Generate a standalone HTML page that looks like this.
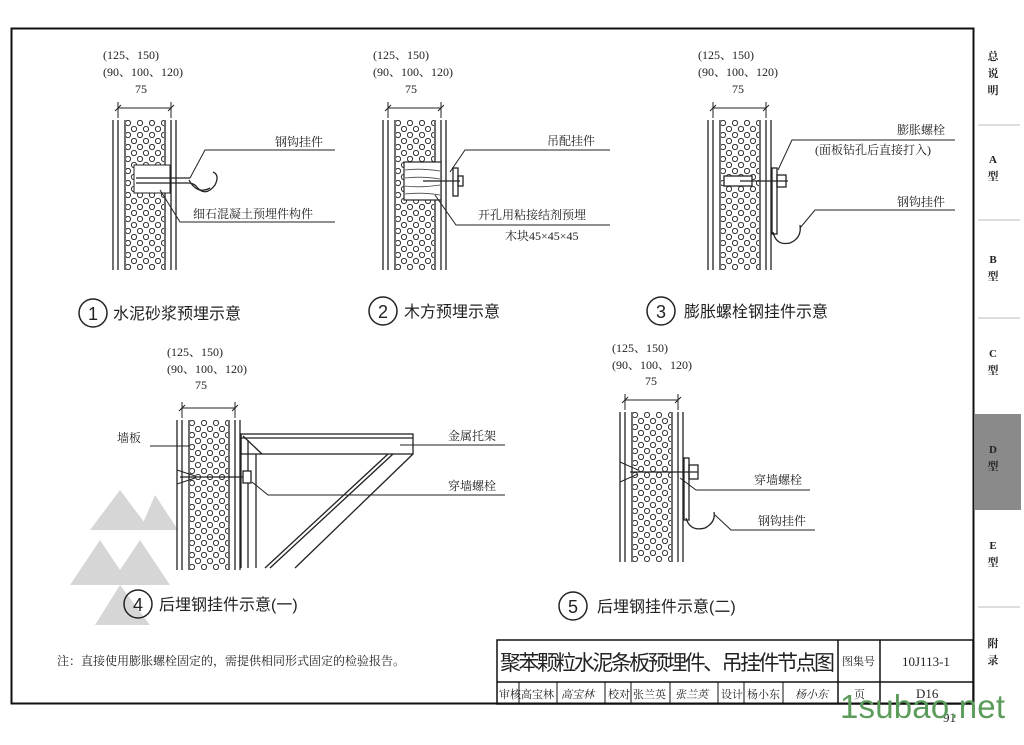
<!DOCTYPE html>
<html><head><meta charset="utf-8"><style>
html,body{margin:0;padding:0;background:#fff;}
svg{display:block;}
text{font-family:"Liberation Serif","Noto Serif CJK SC","Noto Sans CJK SC",serif;fill:#222;}
.s{font-family:"Liberation Sans","Noto Sans CJK SC",sans-serif;}
</style></head><body>
<svg width="1024" height="745" viewBox="0 0 1024 745" xmlns="http://www.w3.org/2000/svg">
<defs>
<pattern id="foam" width="12" height="12" patternUnits="userSpaceOnUse">
<circle cx="3" cy="3" r="2.6" fill="none" stroke="#333" stroke-width="1"/>
<circle cx="9" cy="9" r="2.6" fill="none" stroke="#333" stroke-width="1"/>
</pattern>
<g id="wall" stroke="#222" stroke-width="1.3" fill="none">
<rect x="13" y="0" width="38" height="150" fill="url(#foam)" stroke="none"/>
<line x1="0" y1="0" x2="0" y2="150"/><line x1="5" y1="0" x2="5" y2="150"/>
<line x1="12" y1="0" x2="12" y2="150"/><line x1="52" y1="0" x2="52" y2="150"/>
<line x1="58" y1="0" x2="58" y2="150"/><line x1="63" y1="0" x2="63" y2="150"/>
</g>
<g id="dim" stroke="#222" stroke-width="1" fill="none">
<line x1="5" y1="-18" x2="5" y2="-2"/><line x1="58" y1="-18" x2="58" y2="-2"/>
<line x1="5" y1="-12" x2="58" y2="-12"/>
<line x1="2" y1="-9" x2="8" y2="-15"/><line x1="55" y1="-9" x2="61" y2="-15"/>
</g>
</defs>

<rect x="11.5" y="28.5" width="962" height="675" fill="none" stroke="#111" stroke-width="2"/>
<g stroke="#bbb" stroke-width="1">
<line x1="978" y1="125" x2="1020" y2="125"/><line x1="978" y1="220" x2="1020" y2="220"/>
<line x1="978" y1="318" x2="1020" y2="318"/><line x1="978" y1="607" x2="1020" y2="607"/>
</g>
<rect x="975" y="414" width="46" height="96" fill="#8a8a8a"/>
<g class="s" font-size="11" text-anchor="middle" font-weight="bold">
<text x="993" y="60">总</text><text x="993" y="77">说</text><text x="993" y="94">明</text>
<text x="993" y="163">A</text><text x="993" y="180">型</text>
<text x="993" y="263">B</text><text x="993" y="280">型</text>
<text x="993" y="357">C</text><text x="993" y="374">型</text>
<text x="993" y="453">D</text><text x="993" y="470">型</text>
<text x="993" y="549">E</text><text x="993" y="566">型</text>
<text x="993" y="647">附</text><text x="993" y="664">录</text>
</g>

<g font-size="12"><text x="103" y="59">(125、150)</text><text x="103" y="76">(90、100、120)</text><text x="135" y="93">75</text></g>
<use href="#dim" x="113" y="120"/><use href="#wall" x="113" y="120"/>
<rect x="134" y="165" width="36" height="28" fill="#fff" stroke="#222" stroke-width="1"/>
<g fill="none" stroke="#222" stroke-width="1.3">
<path d="M136 178 H190 M136 183 H188 Q193 183 196 186 Q205 198 215 185 Q220 175 213 172"/>
<path d="M189 180 Q197 195 210 188"/>
<path d="M190 178 L205 150 H335" stroke-width="1"/>
<path d="M160 190 L180 222 H335" stroke-width="1"/>
</g>
<g font-size="12"><text x="275" y="146">钢钩挂件</text><text x="193" y="218">细石混凝土预埋件构件</text></g>
<circle cx="93" cy="313" r="14" fill="none" stroke="#222" stroke-width="1.5"/>
<text class="s" x="93" y="320" font-size="18" text-anchor="middle">1</text>
<text class="s" x="113" y="319" font-size="16">水泥砂浆预埋示意</text>

<g font-size="12"><text x="373" y="59">(125、150)</text><text x="373" y="76">(90、100、120)</text><text x="405" y="93">75</text></g>
<use href="#dim" x="383" y="120"/><use href="#wall" x="383" y="120"/>
<rect x="404" y="162" width="37" height="38" fill="#fff" stroke="#222" stroke-width="1.2"/>
<g fill="none" stroke="#444" stroke-width="0.8">
<path d="M405 170 Q420 168 440 171 M405 178 Q422 176 440 179 M405 186 Q420 188 440 185 M405 194 Q422 192 440 195"/>
</g>
<g fill="none" stroke="#222" stroke-width="1.3">
<line x1="423" y1="181" x2="460" y2="181"/>
<rect x="453" y="168" width="5" height="28"/><rect x="458" y="176" width="5" height="10"/>
<path d="M450 172 L465 150 H610" stroke-width="1"/>
<path d="M435 195 L456 225 H610" stroke-width="1"/>
</g>
<g font-size="12"><text x="547" y="145">吊配挂件</text><text x="478" y="219">开孔用粘接结剂预埋</text><text x="505" y="240">木块45×45×45</text></g>
<circle cx="383" cy="311" r="14" fill="none" stroke="#222" stroke-width="1.5"/>
<text class="s" x="383" y="318" font-size="18" text-anchor="middle">2</text>
<text class="s" x="404" y="317" font-size="16">木方预埋示意</text>

<g font-size="12"><text x="698" y="59">(125、150)</text><text x="698" y="76">(90、100、120)</text><text x="732" y="93">75</text></g>
<use href="#dim" x="708" y="120"/><use href="#wall" x="708" y="120"/>
<g fill="none" stroke="#222" stroke-width="1.3">
<rect x="724" y="176" width="28" height="10" fill="#fff"/>
<line x1="740" y1="181" x2="788" y2="181"/>
<rect x="772" y="168" width="5" height="66"/><rect x="777" y="175" width="9" height="12"/>
<path d="M773 232 Q776 246 790 243 Q802 238 800 225"/>
<path d="M778 170 L792 140 H955" stroke-width="1"/>
<path d="M800 228 L815 210 H955" stroke-width="1"/>
</g>
<g font-size="12"><text x="897" y="134">膨胀螺栓</text><text x="815" y="154">(面板钻孔后直接打入)</text><text x="897" y="206">钢钩挂件</text></g>
<circle cx="661" cy="311" r="14" fill="none" stroke="#222" stroke-width="1.5"/>
<text class="s" x="661" y="318" font-size="18" text-anchor="middle">3</text>
<text class="s" x="684" y="317" font-size="16">膨胀螺栓钢挂件示意</text>

<g fill="#ccc" opacity="0.8">
<polygon points="120,490 150,530 90,530"/><polygon points="155,495 178,530 140,530"/>
<polygon points="100,540 130,585 70,585"/><polygon points="140,540 170,585 110,585"/>
<polygon points="120,585 150,625 95,625"/>
</g>
<g font-size="12"><text x="167" y="356">(125、150)</text><text x="167" y="373">(90、100、120)</text><text x="195" y="389">75</text></g>
<use href="#dim" x="177" y="420"/><use href="#wall" x="177" y="420"/>
<g fill="none" stroke="#222" stroke-width="1.3">
<rect x="241" y="434" width="172" height="20" fill="#fff"/>
<line x1="241" y1="438" x2="413" y2="438"/>
<line x1="243" y1="436" x2="262" y2="454"/>
<line x1="241" y1="434" x2="241" y2="568"/><line x1="248" y1="440" x2="248" y2="568"/>
<line x1="256" y1="454" x2="256" y2="568"/>
<line x1="265" y1="568" x2="388" y2="454"/><line x1="270" y1="568" x2="393" y2="454"/>
<line x1="295" y1="568" x2="413" y2="454"/>
<line x1="180" y1="477" x2="248" y2="477"/>
<rect x="243" y="471" width="8" height="12" fill="#fff"/>
<path d="M177 470 L195 476 M177 484 L195 478" stroke-width="1"/>
<path d="M150 446 H190" stroke-width="1"/>
<path d="M400 445 H505" stroke-width="1"/>
<path d="M252 482 L268 495 H505" stroke-width="1"/>
</g>
<g font-size="12"><text x="117" y="442">墙板</text><text x="448" y="440">金属托架</text><text x="448" y="490">穿墙螺栓</text></g>
<circle cx="138" cy="604" r="14" fill="none" stroke="#222" stroke-width="1.5"/>
<text class="s" x="138" y="611" font-size="18" text-anchor="middle">4</text>
<text class="s" x="159" y="610" font-size="16">后埋钢挂件示意(一)</text>

<g font-size="12"><text x="612" y="352">(125、150)</text><text x="612" y="369">(90、100、120)</text><text x="645" y="385">75</text></g>
<use href="#dim" x="620" y="412"/><use href="#wall" x="620" y="412"/>
<g fill="none" stroke="#222" stroke-width="1.3">
<line x1="630" y1="472" x2="698" y2="472"/>
<path d="M620 462 L638 470 M620 482 L638 474" stroke-width="1"/>
<rect x="684" y="458" width="5" height="62"/><rect x="689" y="465" width="9" height="14"/>
<path d="M686 518 Q690 532 705 528 Q716 522 714 512"/>
<path d="M680 478 L696 490 H810" stroke-width="1"/>
<path d="M715 515 L731 530 H815" stroke-width="1"/>
</g>
<g font-size="12"><text x="754" y="484">穿墙螺栓</text><text x="758" y="525">钢钩挂件</text></g>
<circle cx="573" cy="606" r="14" fill="none" stroke="#222" stroke-width="1.5"/>
<text class="s" x="573" y="613" font-size="18" text-anchor="middle">5</text>
<text class="s" x="597" y="612" font-size="16">后埋钢挂件示意(二)</text>

<text x="57" y="665" font-size="12">注：直接使用膨胀螺栓固定的，需提供相同形式固定的检验报告。</text>

<g fill="none" stroke="#111" stroke-width="1.5">
<rect x="497" y="640" width="476" height="64"/>
<line x1="497" y1="682" x2="973" y2="682"/>
<line x1="838" y1="640" x2="838" y2="704"/><line x1="880" y1="640" x2="880" y2="704"/>
</g>
<g fill="none" stroke="#111" stroke-width="1">
<line x1="519" y1="682" x2="519" y2="704"/><line x1="557" y1="682" x2="557" y2="704"/>
<line x1="605" y1="682" x2="605" y2="704"/><line x1="631" y1="682" x2="631" y2="704"/>
<line x1="670" y1="682" x2="670" y2="704"/><line x1="718" y1="682" x2="718" y2="704"/>
<line x1="744" y1="682" x2="744" y2="704"/><line x1="783" y1="682" x2="783" y2="704"/>
</g>
<text class="s" x="500" y="670" font-size="21" textLength="335">聚苯颗粒水泥条板预埋件、吊挂件节点图</text>
<g font-size="11">
<text x="842" y="665">图集号</text><text x="902" y="666" font-size="13">10J113-1</text>
<text x="499" y="698">审核</text><text x="521" y="698">高宝林</text><text x="561" y="698" font-style="italic">高宝林</text>
<text x="608" y="698">校对</text><text x="633" y="698">张兰英</text><text x="675" y="698" font-style="italic">张兰英</text>
<text x="721" y="698">设计</text><text x="747" y="698">杨小东</text><text x="795" y="698" font-style="italic">杨小东</text>
<text x="854" y="698">页</text><text x="916" y="698" font-size="13">D16</text>
</g>
<text x="943" y="722" font-size="13">91</text>
<text class="s" x="840" y="718" font-size="33" textLength="165" style="fill:#5b9c5b">1subao.net</text>
</svg>
</body></html>
